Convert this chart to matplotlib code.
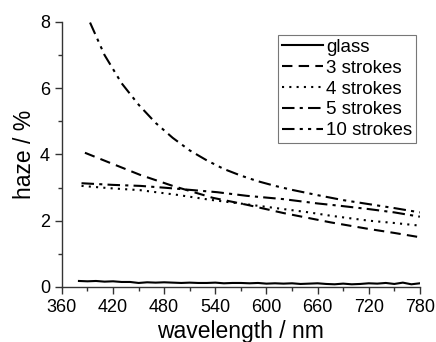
import numpy as np
import matplotlib.pyplot as plt
from matplotlib.ticker import MultipleLocator

plt.rcParams['font.family'] = ['Liberation Sans', 'DejaVu Sans']

# haze spectra
wl_glass = [380, 390, 400, 410, 420, 430, 440, 450, 460, 470, 480, 490, 500, 510,
            520, 530, 540, 550, 560, 570, 580, 590, 600, 610, 620, 630, 640, 650,
            660, 670, 680, 690, 700, 710, 720, 730, 740, 750, 760, 770, 780]
haze_glass = [0.18, 0.17, 0.18, 0.16, 0.17, 0.15, 0.15, 0.12, 0.14, 0.13, 0.14, 0.13, 0.12, 0.13,
              0.12, 0.12, 0.13, 0.11, 0.12, 0.12, 0.11, 0.12, 0.10, 0.11, 0.10, 0.11, 0.09, 0.10,
              0.11, 0.09, 0.08, 0.10, 0.08, 0.09, 0.11, 0.10, 0.12, 0.09, 0.13, 0.08, 0.11]

wl_3 = [387, 416, 452, 490, 537, 577, 620, 675, 720, 750, 780]
haze_3 = [4.05, 3.75, 3.38, 3.05, 2.69, 2.48, 2.23, 1.95, 1.75, 1.63, 1.50]

wl_4 = [383, 416, 452, 495, 534, 581, 620, 650, 675, 720, 750, 780]
haze_4 = [3.05, 2.98, 2.92, 2.78, 2.63, 2.48, 2.35, 2.25, 2.15, 2.00, 1.93, 1.85]

wl_5 = [383, 420, 452, 483, 542, 577, 620, 660, 686, 720, 750, 780]
haze_5 = [3.13, 3.08, 3.05, 2.99, 2.86, 2.75, 2.65, 2.52, 2.45, 2.35, 2.25, 2.12]

wl_10 = [393, 410, 430, 450, 470, 490, 510, 530, 550, 570, 590, 610, 630, 660, 690, 720, 750, 780]
haze_10 = [7.98, 7.00, 6.15, 5.50, 4.95, 4.50, 4.12, 3.82, 3.56, 3.36, 3.19, 3.05, 2.93, 2.77,
           2.62, 2.50, 2.38, 2.25]

fig = plt.figure(figsize=(4.36, 3.42), dpi=100)
ax = fig.add_axes([0.142, 0.161, 0.821, 0.775])

lw = 1.5
ax.plot(wl_glass, haze_glass, color='black', lw=lw, ls='-', label='glass')
ax.plot(wl_3, haze_3, color='black', lw=lw, ls=(0, (5, 3)), label='3 strokes')
ax.plot(wl_4, haze_4, color='black', lw=lw, ls=(0, (1, 2.5)), label='4 strokes')
ax.plot(wl_5, haze_5, color='black', lw=lw, ls=(0, (6, 2.5, 1.5, 2.5)), label='5 strokes')
ax.plot(wl_10, haze_10, color='black', lw=lw, ls=(0, (6, 2.5, 1.5, 2.5, 1.5, 2.5)), label='10 strokes')

ax.set_xlim(360, 780)
ax.set_ylim(0, 8)
ax.xaxis.set_major_locator(MultipleLocator(60))
ax.xaxis.set_minor_locator(MultipleLocator(30))
ax.yaxis.set_major_locator(MultipleLocator(2))
ax.yaxis.set_minor_locator(MultipleLocator(1))

for s in ['top', 'right']:
    ax.spines[s].set_visible(False)
for s in ['left', 'bottom']:
    ax.spines[s].set_linewidth(1.0)
    ax.spines[s].set_color('#333333')

ax.tick_params(which='major', direction='out', length=5, width=1, labelsize=13, color='#333333')
ax.tick_params(which='minor', direction='out', length=3, width=1, color='#333333')

ax.set_xlabel('wavelength / nm', fontsize=16.5, labelpad=3)
ax.set_ylabel('haze / %', fontsize=16.5, labelpad=3)

leg = ax.legend(loc='upper right', bbox_to_anchor=(1.0, 0.965), fontsize=13.5, frameon=True,
                fancybox=False, edgecolor='#555555', handlelength=2.2, handletextpad=0.15,
                labelspacing=0.2, borderpad=0.2, borderaxespad=0.2)
leg.get_frame().set_linewidth(0.8)

plt.savefig('out.png', dpi=100)
